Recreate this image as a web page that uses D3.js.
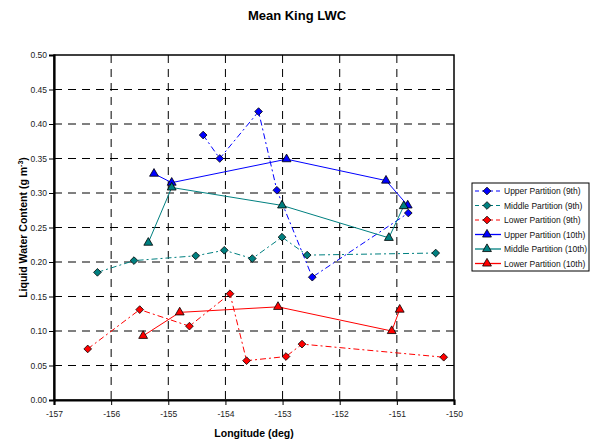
<!DOCTYPE html>
<html>
<head>
<meta charset="utf-8">
<script src="https://cdn.jsdelivr.net/npm/d3@7"></script>
<style>
  body { margin: 0; background: #fff; }
  svg { font-family: "Liberation Sans", Arial, sans-serif; }
</style>
</head>
<body>
<svg id="chart"></svg>
<script>
const width = 594;
const height = 443;

// series data: longitude (deg), LWC (g m^-3)
const upper9Lon = [-154.39, -154.1, -153.42, -153.1, -152.48, -150.8];
const upper9Val = [0.384, 0.35, 0.418, 0.304, 0.178, 0.271];
const middle9Lon = [-156.24, -155.6, -154.52, -154.02, -153.53, -153.01, -152.57, -150.32];
const middle9Val = [0.185, 0.202, 0.209, 0.217, 0.205, 0.236, 0.21, 0.213];
const lower9Lon = [-156.41, -155.5, -154.63, -153.92, -153.63, -152.94, -152.66, -150.18];
const lower9Val = [0.074, 0.131, 0.107, 0.154, 0.057, 0.063, 0.081, 0.062];
const upper10Lon = [-155.25, -154.94, -152.93, -151.19, -150.81];
const upper10Val = [0.328, 0.315, 0.349, 0.318, 0.282];
const middle10Lon = [-155.35, -154.94, -153.01, -151.14, -150.88];
const middle10Val = [0.228, 0.308, 0.282, 0.235, 0.281];
const lower10Lon = [-155.44, -154.8, -153.08, -151.09, -150.95];
const lower10Val = [0.093, 0.127, 0.135, 0.1, 0.131];

const xTicks = [-157, -156, -155, -154, -153, -152, -151, -150];
const yTicks = [0, 0.05, 0.1, 0.15, 0.2, 0.25, 0.3, 0.35, 0.4, 0.45, 0.5];

const series = [
  { name: "Upper Partition (9th)", lon: upper9Lon, val: upper9Val, color: "#0000ff", shape: "diamond", dash: "6,3,2,3" },
  { name: "Middle Partition (9th)", lon: middle9Lon, val: middle9Val, color: "#008080", shape: "diamond", dash: "6,3,2,3" },
  { name: "Lower Partition (9th)", lon: lower9Lon, val: lower9Val, color: "#ff0000", shape: "diamond", dash: "6,3,2,3" },
  { name: "Upper Partition (10th)", lon: upper10Lon, val: upper10Val, color: "#0000ff", shape: "triangle", dash: null },
  { name: "Middle Partition (10th)", lon: middle10Lon, val: middle10Val, color: "#008080", shape: "triangle", dash: null },
  { name: "Lower Partition (10th)", lon: lower10Lon, val: lower10Val, color: "#ff0000", shape: "triangle", dash: null }
];

const margin = { top: 55, right: 140, bottom: 43, left: 54 };
const plotW = width - margin.left - margin.right;
const plotH = height - margin.top - margin.bottom;

const svg = d3.select("#chart").attr("width", width).attr("height", height);

const x = d3.scaleLinear().domain([-157, -150]).range([0, plotW]);
const y = d3.scaleLinear().domain([0, 0.5]).range([plotH, 0]);

const g = svg.append("g").attr("transform", `translate(${margin.left},${margin.top})`);

// grid
g.selectAll(".vgrid")
  .data(xTicks.slice(1, -1))
  .enter()
  .append("line")
  .attr("x1", (d) => x(d))
  .attr("x2", (d) => x(d))
  .attr("y1", 0)
  .attr("y2", plotH)
  .attr("stroke", "#000")
  .attr("stroke-width", 1)
  .attr("stroke-dasharray", "8,6");

g.selectAll(".hgrid")
  .data(yTicks.slice(1, -1))
  .enter()
  .append("line")
  .attr("x1", 0)
  .attr("x2", plotW)
  .attr("y1", (d) => y(d))
  .attr("y2", (d) => y(d))
  .attr("stroke", "#000")
  .attr("stroke-width", 1)
  .attr("stroke-dasharray", "8,6");

// frame
g.append("rect")
  .attr("width", plotW)
  .attr("height", plotH)
  .attr("fill", "none")
  .attr("stroke", "#000")
  .attr("stroke-width", 1.5);

// axes
const xAxis = g.append("g")
  .attr("transform", `translate(0,${plotH})`)
  .call(d3.axisBottom(x).tickValues(xTicks).tickFormat((d) => String(d)).tickSize(5).tickPadding(6));
const yAxis = g.append("g")
  .call(d3.axisLeft(y).tickValues(yTicks).tickFormat((d) => d.toFixed(2)).tickSize(5).tickPadding(2));

[xAxis, yAxis].forEach((a) => {
  a.select(".domain").attr("stroke-width", 2.2);
  a.selectAll("text")
    .attr("font-size", "8.5px")
    .attr("fill", "#222")
    .attr("font-family", "Liberation Sans, Arial, sans-serif");
});

const symDiamond = d3.symbol().type(d3.symbolDiamond2).size(38);
const symTriangle = d3.symbol().type(d3.symbolTriangle).size(34);

const line = d3.line().x((d) => x(d[0])).y((d) => y(d[1]));

series.forEach((s) => {
  const pts = s.lon.map((lon, i) => [lon, s.val[i]]);
  g.append("path")
    .datum(pts)
    .attr("d", line)
    .attr("fill", "none")
    .attr("stroke", s.color)
    .attr("stroke-width", 1)
    .attr("stroke-dasharray", s.dash);
});

series.forEach((s) => {
  const pts = s.lon.map((lon, i) => [lon, s.val[i]]);
  g.selectAll(null)
    .data(pts)
    .enter()
    .append("path")
    .attr("d", s.shape === "diamond" ? symDiamond : symTriangle)
    .attr("transform", (d) => `translate(${x(d[0])},${y(d[1])})`)
    .attr("fill", s.color)
    .attr("stroke", "#000")
    .attr("stroke-width", 0.8);
});

// title
svg.append("text")
  .attr("x", 297)
  .attr("y", 20)
  .attr("text-anchor", "middle")
  .attr("font-size", "13px")
  .attr("font-weight", "bold")
  .text("Mean King LWC");

// axis labels
svg.append("text")
  .attr("x", margin.left + plotW / 2)
  .attr("y", 437)
  .attr("text-anchor", "middle")
  .attr("font-size", "10.5px")
  .attr("font-weight", "bold")
  .text("Longitude (deg)");

const yl = svg.append("text")
  .attr("transform", `translate(27,${margin.top + plotH / 2}) rotate(-90)`)
  .attr("text-anchor", "middle")
  .attr("font-size", "10.5px")
  .attr("font-weight", "bold");
yl.append("tspan").text("Liquid Water Content (g m");
yl.append("tspan").attr("font-size", "7px").attr("dy", -4).text("-3");
yl.append("tspan").attr("dy", 4).text(")");

// legend
const legend = svg.append("g").attr("transform", "translate(472,183)");
legend.append("rect")
  .attr("width", 117)
  .attr("height", 88)
  .attr("fill", "#fff")
  .attr("stroke", "#000")
  .attr("stroke-width", 1);

const items = legend.selectAll(".item")
  .data(series)
  .enter()
  .append("g")
  .attr("transform", (d, i) => `translate(0,${8 + i * 14.5})`);

items.append("line")
  .attr("x1", 3)
  .attr("x2", 29)
  .attr("stroke", (d) => d.color)
  .attr("stroke-width", (d) => (d.dash ? 1 : 1.3))
  .attr("stroke-dasharray", (d) => (d.dash ? "4,3" : null));

items.append("path")
  .attr("d", (d) => (d.shape === "diamond" ? symDiamond() : symTriangle()))
  .attr("transform", "translate(15,0)")
  .attr("fill", (d) => d.color)
  .attr("stroke", "#000")
  .attr("stroke-width", 0.8);

items.append("text")
  .attr("x", 32)
  .attr("y", 3)
  .attr("font-size", "8.5px")
  .attr("fill", "#111")
  .text((d) => d.name);
</script>
</body>
</html>
